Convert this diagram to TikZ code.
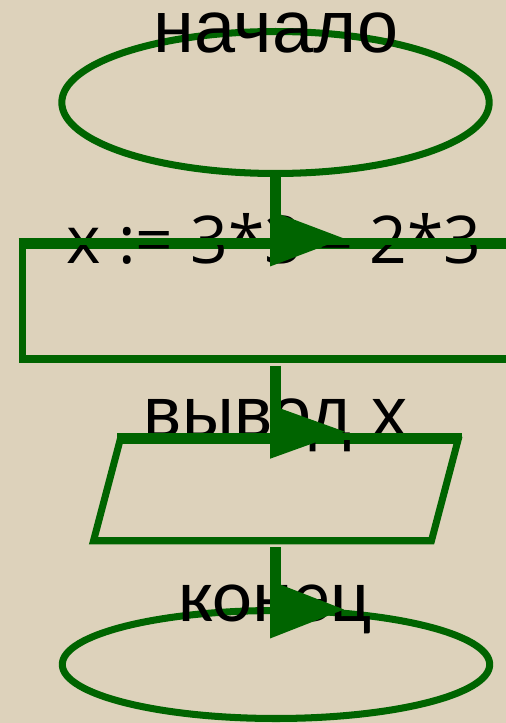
\documentclass[tikz,border=0pt]{standalone}
\usepackage{fontspec}
\setmainfont{Liberation Sans}
\newfontfamily\calibrifont{Carlito}
\newfontfamily\segoefont{Open Sans}
\usetikzlibrary{shapes.geometric,positioning,calc}
\definecolor{flowgreen}{HTML}{006400}
\definecolor{flowpaper}{HTML}{DDD2BB}
\tikzstyle{termbox} = [ellipse, draw=flowgreen, line width=4pt, minimum width=8.55cm, inner sep=0pt]
\tikzstyle{procbox} = [rectangle, draw=flowgreen, line width=4pt, minimum width=10.14cm,
    minimum height=2.28cm, inner sep=0pt]
\tikzstyle{iobox} = [rectangle, draw=flowgreen, line width=4pt, minimum width=6.76cm,
    minimum height=2.01cm, inner sep=0pt, xslant=0.264, transform shape]
\tikzstyle{flowtext} = [font=\fontsize{42}{48}\selectfont, inner sep=0pt, anchor=base]
\tikzstyle{flowline} = [draw=flowgreen, line width=6.2pt]
\tikzstyle{headtip} = [fill=flowgreen]

\begin{document}
\begin{tikzpicture}[x=0.02cm, y=-0.02cm]
\fill[flowpaper] (0,0) rectangle (506,723);
\clip (0,0) rectangle (506,723);

% blocks
\node[procbox] (calc) at (275.5,302) {};
\node[iobox] (out) at (275.75,490.5) {};
\node[termbox, minimum height=2.16cm] (stop) at (276,664.5) {};

% texts
\node[flowtext, font=\segoefont\fontsize{37.5}{44}\selectfont] (calctext) at (274,263) {x := 3*3 – 2*3};
\node[flowtext, font=\fontsize{41}{48}\selectfont] (outtext) at (276,437) {вывод x};
\node[flowtext, font=\calibrifont\fontsize{43}{48}\selectfont] (stoptext) at (275,621) {конец};

\draw[flowgreen, line width=4pt] (calc.north west) -- (calc.north east);
\draw[flowgreen, line width=4pt] (out.north west) -- (out.north east);
\node[termbox, minimum height=2.84cm] (start) at (275.5,102.5) {};
\node[flowtext] (starttext) at (276,53) {начало};

% connectors
\draw[flowline] (start.south) -- (start.south |- calc.north);
\draw[flowline] ([yshift=-0.06cm]calc.south) -- (calc.south |- out.north);
\draw[flowline] ([yshift=-0.06cm]calc.south |- out.south) -- (calc.south |- stop.north);

\fill[headtip] ($(calc.north)+(-5.5,-31)$) -- ++(74,28) -- ++(-74,28) -- cycle;
\fill[headtip] ($(calc.south |- out.north)+(-5.5,-32)$) -- ++(75,27) -- ++(-75,27) -- cycle;
\fill[headtip] ($(calc.south |- stop.north)+(-5.5,-26.5)$) -- ++(74,29) -- ++(-74,29) -- cycle;
\end{tikzpicture}
\end{document}
